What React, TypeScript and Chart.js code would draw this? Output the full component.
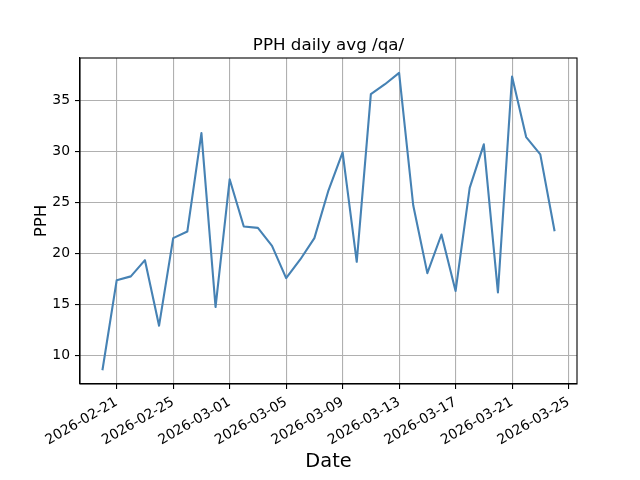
import React, { useEffect, useRef } from "react";
import { Chart, registerables } from "chart.js";

Chart.register(...registerables);

const dates: string[] = [
  "2026-02-20", "2026-02-21", "2026-02-22", "2026-02-23", "2026-02-24", "2026-02-25",
  "2026-02-26", "2026-02-27", "2026-02-28", "2026-03-01", "2026-03-02", "2026-03-03",
  "2026-03-04", "2026-03-05", "2026-03-06", "2026-03-07", "2026-03-08", "2026-03-09",
  "2026-03-10", "2026-03-11", "2026-03-12", "2026-03-13", "2026-03-14", "2026-03-15",
  "2026-03-16", "2026-03-17", "2026-03-18", "2026-03-19", "2026-03-20", "2026-03-21",
  "2026-03-22", "2026-03-23", "2026-03-24",
];

const pph: number[] = [
  8.63, 17.37, 17.74, 19.33, 12.9, 21.49,
  22.14, 31.8, 14.73, 27.27, 22.63, 22.5,
  20.73, 17.57, 19.4, 21.49, 26.19, 29.91,
  19.17, 35.62, 36.6, 37.72, 24.72, 18.06,
  21.85, 16.3, 26.42, 30.7, 16.17, 37.36,
  31.41, 29.72, 22.27,
];

const xTickDates: string[] = [
  "2026-02-21", "2026-02-25", "2026-03-01", "2026-03-05", "2026-03-09",
  "2026-03-13", "2026-03-17", "2026-03-21", "2026-03-25",
];

const yTicks: number[] = [10, 15, 20, 25, 30, 35];

const DAY = 86400000;
const toDay = (s: string) => {
  const [y, m, d] = s.split("-").map(Number);
  return Date.UTC(y, m - 1, d) / DAY;
};
const fmtDay = (v: number) => new Date(Math.round(v) * DAY).toISOString().slice(0, 10);

const FONT = "'DejaVu Sans', sans-serif";

export default function App() {
  const ref = useRef<HTMLCanvasElement | null>(null);

  useEffect(() => {
    if (!ref.current) return;
    const xs = dates.map(toDay);
    const xMinD = Math.min(...xs);
    const xMaxD = Math.max(...xs);
    const xm = (xMaxD - xMinD) * 0.05;
    const yMinD = Math.min(...pph);
    const yMaxD = Math.max(...pph);
    const ym = (yMaxD - yMinD) * 0.05;

    const framePlugin = {
      id: "frame",
      afterDraw(chart: any) {
        const { ctx, chartArea } = chart;
        ctx.save();
        ctx.strokeStyle = "#000";
        ctx.lineWidth = 1.1;
        ctx.strokeRect(chartArea.left, chartArea.top, chartArea.right - chartArea.left, chartArea.bottom - chartArea.top);
        ctx.fillStyle = "#000";
        ctx.textAlign = "center";
        ctx.textBaseline = "alphabetic";
        const cx = (chartArea.left + chartArea.right) / 2;
        ctx.font = `16.7px ${FONT}`;
        ctx.fillText("PPH daily avg /qa/", cx, 50);
        ctx.font = `19.4px ${FONT}`;
        ctx.fillText("Date", cx, 467);
        ctx.save();
        ctx.translate(46, (chartArea.top + chartArea.bottom) / 2);
        ctx.rotate(-Math.PI / 2);
        ctx.font = `16.7px ${FONT}`;
        ctx.textBaseline = "alphabetic";
        ctx.fillText("PPH", 0, 0);
        ctx.restore();
        ctx.restore();
      },
    };

    const chart = new Chart(ref.current, {
      type: "line",
      data: {
        datasets: [
          {
            data: xs.map((x, i) => ({ x, y: pph[i] })),
            borderColor: "#4682b4",
            borderWidth: 2.1,
            borderJoinStyle: "round",
            borderCapStyle: "square",
            pointRadius: 0,
            fill: false,
            tension: 0,
          },
        ],
      },
      options: {
        animation: false,
        responsive: false,
        events: [],
        layout: { padding: { left: 0, right: 63, top: 58, bottom: 0 } },
        plugins: { legend: { display: false }, title: { display: false }, tooltip: { enabled: false } },
        scales: {
          x: {
            type: "linear",
            min: xMinD - xm,
            max: xMaxD + xm,
            afterBuildTicks: (s: any) => {
              s.ticks = xTickDates.map((d) => ({ value: toDay(d) }));
            },
            afterFit: (s: any) => {
              s.height = 96;
            },
            grid: { color: "#b0b0b0", lineWidth: 1.1, tickColor: "#000", tickLength: 5 },
            border: { color: "#000", width: 1.1 },
            ticks: {
              autoSkip: false,
              minRotation: 30,
              maxRotation: 30,
              padding: 5,
              color: "#000",
              font: { family: FONT, size: 13.9 },
              callback: (v: any) => fmtDay(Number(v)),
            },
          },
          y: {
            type: "linear",
            min: yMinD - ym,
            max: yMaxD + ym,
            afterBuildTicks: (s: any) => {
              s.ticks = yTicks.map((v) => ({ value: v }));
            },
            afterFit: (s: any) => {
              s.width = 80;
            },
            grid: { color: "#b0b0b0", lineWidth: 1.1, tickColor: "#000", tickLength: 5 },
            border: { color: "#000", width: 1.1 },
            ticks: {
              padding: 5,
              color: "#000",
              font: { family: FONT, size: 13.9 },
              callback: (v: any) => String(v),
            },
          },
        },
      },
      plugins: [framePlugin],
    });
    return () => chart.destroy();
  }, []);

  return (
    <div style={{ position: "fixed", left: 0, top: 0, width: 640, height: 480, background: "#fff" }}>
      <canvas ref={ref} width={640} height={480} style={{ display: "block" }} />
    </div>
  );
}
